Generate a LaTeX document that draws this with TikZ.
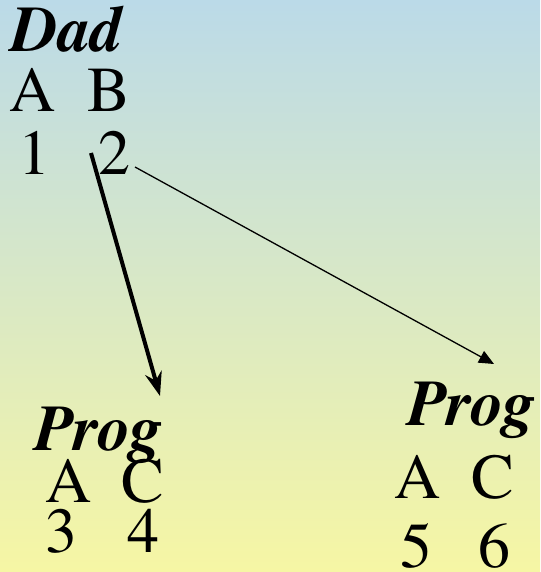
\documentclass[tikz,border=0pt]{standalone}
\usepackage{fontspec}
\newfontfamily\tms{texgyretermes}[Extension=.otf,UprightFont=*-regular,BoldFont=*-bold,ItalicFont=*-italic,BoldItalicFont=*-bolditalic]
\usetikzlibrary{arrows.meta}
\definecolor{skytop}{RGB}{187,218,232}
\definecolor{sandbottom}{RGB}{246,246,164}
\begin{document}
\begin{tikzpicture}[x=1pt,y=-1pt,
  lbl/.style={anchor=base west,inner sep=0pt,font=\tms\fontsize{64}{64}\selectfont},
  ttl/.style={lbl,font=\tms\fontsize{65}{65}\selectfont\bfseries\itshape},
  thickarrow/.style={line width=4pt,-{Stealth[length=24pt,width=17pt,inset=8pt]}},
  thinarrow/.style={line width=1.3pt,-{Triangle[length=15pt,width=13pt]}}]
  % background
  \shade[top color=skytop,bottom color=sandbottom] (0,0) rectangle (540,572);
  \useasboundingbox (0,0) rectangle (540,572);
  % parent record
  \node[ttl] (dad) at (11,52) {Dad};
  \node[lbl] (dA) at (9,112) {A};
  \node[lbl] (dB) at (87,112) {B};
  \node[lbl] (d1) at (18,175) {1};
  \node[lbl] (d2) at (98,175) {2};
  % first child record
  \node[ttl] (pl) at (34,450) {Prog};
  \node[lbl] (plA) at (45,502) {A};
  \node[lbl] (plC) at (121,502) {C};
  \node[lbl] (pl3) at (45,552) {3};
  \node[lbl] (pl4) at (127,552) {4};
  % second child record
  \node[ttl] (pr) at (407,425) {Prog};
  \node[lbl] (prA) at (394,498) {A};
  \node[lbl] (prC) at (471,498) {C};
  \node[lbl] (pr5) at (400,567) {5};
  \node[lbl] (pr6) at (478,567) {6};
  % pointer ends
  \coordinate (s1) at (91,153);
  \coordinate (e1) at (160,396);
  \coordinate (s2) at (135,167);
  \coordinate (e2) at (494,364);
  \draw[thickarrow] (s1) -- (e1);
  \draw[thinarrow] (s2) -- (e2);
\end{tikzpicture}
\end{document}
